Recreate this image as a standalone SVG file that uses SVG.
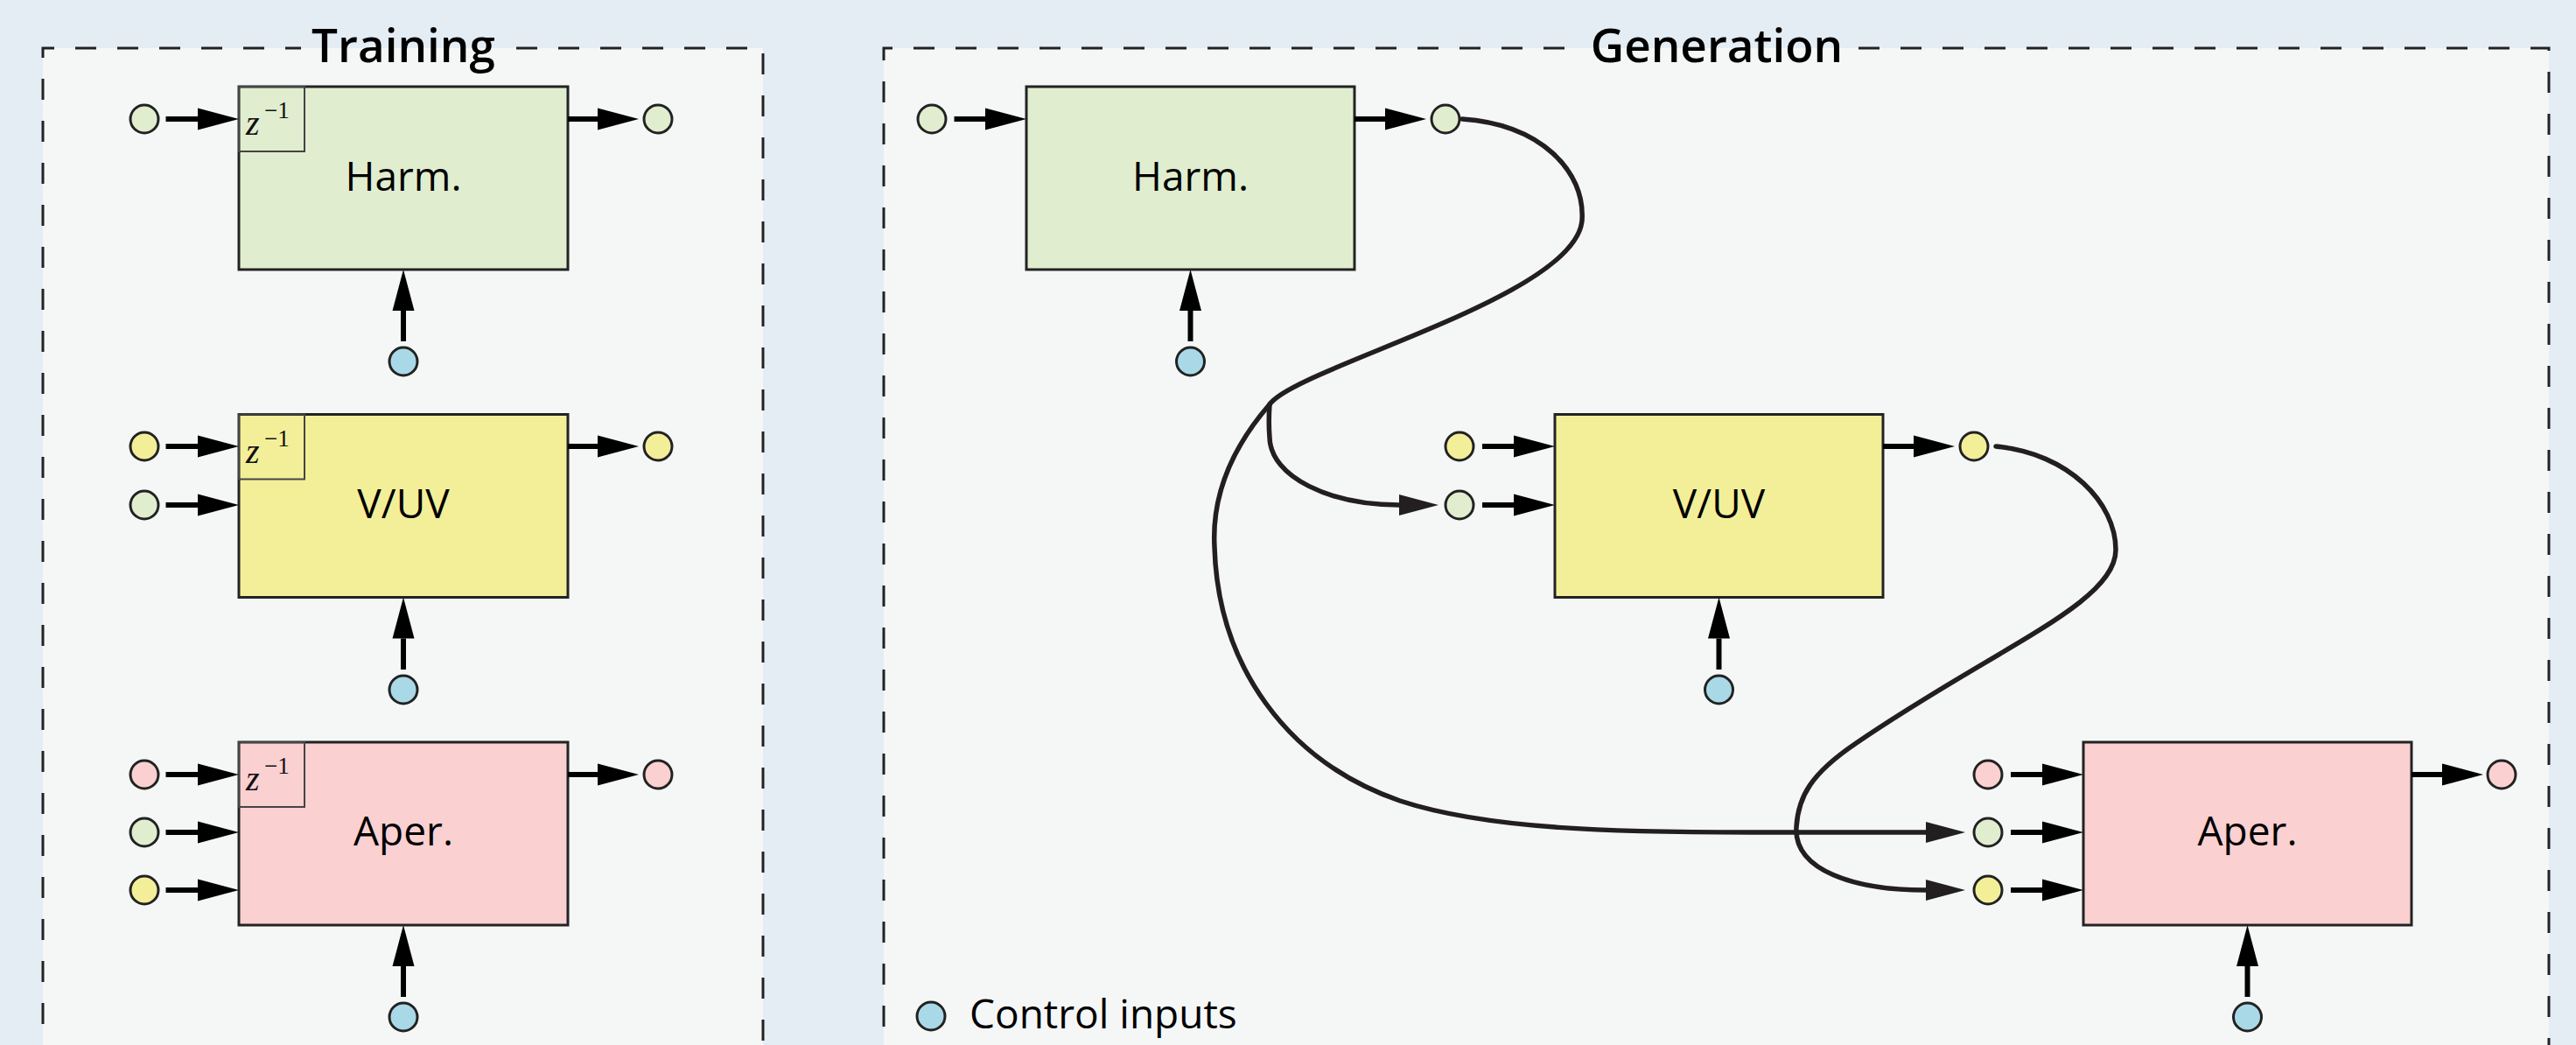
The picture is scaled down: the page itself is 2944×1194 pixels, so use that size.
<svg xmlns="http://www.w3.org/2000/svg" width="2944" height="1194" viewBox="0 0 2944 1194">
<defs>
<style>
.frame{fill:#f5f7f7;stroke:none}
.dash{fill:none;stroke:#222;stroke-width:3;stroke-dasharray:24 24}
.title{font-family:"Open Sans","Noto Sans",sans-serif;font-weight:600;font-size:53px;fill:#000;text-anchor:middle}
.lbl{font-family:"Open Sans","Noto Sans",sans-serif;font-size:46px;fill:#000;text-anchor:middle}
.legend{font-family:"Open Sans","Noto Sans",sans-serif;font-size:46px;fill:#000}
.box{stroke:#232323;stroke-width:3}
.zb{fill:none;stroke:#444;stroke-width:2}
.zt{font-family:"Liberation Serif","DejaVu Serif",serif;fill:#111}
.g{fill:#e1edcf}
.y{fill:#f3ef99}
.p{fill:#fad0d1}
.c{stroke:#222;stroke-width:3}
.cb{fill:#a9d9e6}
.arr{stroke:#000;stroke-width:6;fill:none;marker-end:url(#ah)}
.cur{stroke:#231f20;stroke-width:5.5;fill:none;stroke-linecap:round}
.cura{marker-end:url(#ahc)}
</style>
<marker id="ah" markerUnits="userSpaceOnUse" markerWidth="48" markerHeight="26" refX="0" refY="12.5" orient="auto" overflow="visible"><path d="M0,0 L47,12.5 L0,25 Z" fill="#000"/></marker>
<marker id="ahc" markerUnits="userSpaceOnUse" markerWidth="46" markerHeight="25" refX="0" refY="12" orient="auto" overflow="visible"><path d="M0,0 L45,12 L0,24 Z" fill="#231f20"/></marker>
</defs>
<rect x="0" y="0" width="2944" height="1194" fill="#e4ecf4"/>

<g id="training-frame">
<rect class="frame" x="49" y="55" width="823" height="1200"/>
<path class="dash" d="M590,55 H872 V1260 H49 V55 H344"/>
<text class="title" x="461" y="71">Training</text>
</g>
<g id="generation-frame">
<rect class="frame" x="1010" y="55" width="1903" height="1200"/>
<path class="dash" d="M2124,55 H2913 V1260 H1010 V55 H1801"/>
<text class="title" x="1962" y="71">Generation</text>
</g>

<!-- Training nodes -->
<g id="t-harm">
<rect class="box g" x="273" y="99" width="376" height="209"/>
<rect class="zb" x="273" y="99" width="75" height="74"/>
<text class="zt" x="281" y="154" font-size="40" font-style="italic">z</text>
<text class="zt" x="302" y="135" font-size="27">−1</text>
<text class="lbl" x="461" y="218">Harm.</text>
</g>
<g id="t-vuv">
<rect class="box y" x="273" y="473.5" width="376" height="209"/>
<rect class="zb" x="273" y="473.5" width="75" height="74"/>
<text class="zt" x="281" y="528.5" font-size="40" font-style="italic">z</text>
<text class="zt" x="302" y="509.5" font-size="27">−1</text>
<text class="lbl" x="461" y="592">V/UV</text>
</g>
<g id="t-aper">
<rect class="box p" x="273" y="848" width="376" height="209"/>
<rect class="zb" x="273" y="848" width="75" height="74"/>
<text class="zt" x="281" y="903" font-size="40" font-style="italic">z</text>
<text class="zt" x="302" y="884" font-size="27">−1</text>
<text class="lbl" x="461" y="966">Aper.</text>
</g>
<g id="t-ports">
<circle class="c g" cx="165" cy="136" r="16"/>
<circle class="c g" cx="752" cy="136" r="16"/>
<circle class="c cb" cx="461" cy="413" r="16"/>
<circle class="c y" cx="165" cy="510" r="16"/>
<circle class="c g" cx="165" cy="577" r="16"/>
<circle class="c y" cx="752" cy="510" r="16"/>
<circle class="c cb" cx="461" cy="788" r="16"/>
<circle class="c p" cx="165" cy="885" r="16"/>
<circle class="c g" cx="165" cy="951" r="16"/>
<circle class="c y" cx="165" cy="1017" r="16"/>
<circle class="c p" cx="752" cy="885" r="16"/>
<circle class="c cb" cx="461" cy="1162" r="16"/>
</g>

<!-- Generation nodes -->
<g id="g-harm">
<rect class="box g" x="1173" y="99" width="375" height="209"/>
<text class="lbl" x="1360.5" y="218">Harm.</text>
</g>
<g id="g-vuv">
<rect class="box y" x="1777" y="473.5" width="375" height="209"/>
<text class="lbl" x="1964.5" y="592">V/UV</text>
</g>
<g id="g-aper">
<rect class="box p" x="2381" y="848" width="375" height="209"/>
<text class="lbl" x="2568.5" y="966">Aper.</text>
</g>
<g id="g-ports">
<circle class="c g" cx="1065" cy="136" r="16"/>
<circle class="c g" cx="1652" cy="136" r="16"/>
<circle class="c cb" cx="1360.5" cy="413" r="16"/>
<circle class="c y" cx="1668" cy="510" r="16"/>
<circle class="c g" cx="1668" cy="577" r="16"/>
<circle class="c y" cx="2256" cy="510" r="16"/>
<circle class="c cb" cx="1964.5" cy="788" r="16"/>
<circle class="c p" cx="2272" cy="885" r="16"/>
<circle class="c g" cx="2272" cy="951" r="16"/>
<circle class="c y" cx="2272" cy="1017" r="16"/>
<circle class="c p" cx="2859" cy="885" r="16"/>
<circle class="c cb" cx="2568.5" cy="1162" r="16"/>
</g>

<g id="legend">
<circle class="c cb" cx="1064" cy="1161" r="16"/>
<text class="legend" x="1108" y="1175">Control inputs</text>
</g>

<g id="connectors">
<!-- training -->
<path class="arr" d="M189.5,136 H226"/>
<path class="arr" d="M649,136 H683"/>
<path class="arr" d="M461,390 V355"/>
<path class="arr" d="M189.5,510 H226"/>
<path class="arr" d="M189.5,577 H226"/>
<path class="arr" d="M649,510 H683"/>
<path class="arr" d="M461,765 V729.5"/>
<path class="arr" d="M189.5,885 H226"/>
<path class="arr" d="M189.5,951 H226"/>
<path class="arr" d="M189.5,1017 H226"/>
<path class="arr" d="M649,885 H683"/>
<path class="arr" d="M461,1139 V1104"/>
<!-- generation -->
<path class="arr" d="M1090.5,136 H1126"/>
<path class="arr" d="M1548,136 H1583"/>
<path class="arr" d="M1360.5,390 V355"/>
<path class="arr" d="M1694,510 H1730"/>
<path class="arr" d="M1694,577 H1730"/>
<path class="arr" d="M2152,510 H2187"/>
<path class="arr" d="M1964.5,765 V729.5"/>
<path class="arr" d="M2298,885 H2334"/>
<path class="arr" d="M2298,951 H2334"/>
<path class="arr" d="M2298,1017 H2334"/>
<path class="arr" d="M2756,885 H2791"/>
<path class="arr" d="M2568.5,1139 V1104"/>
<!-- curves -->
<path class="cur" d="M1671,136 C1760,142 1812,195 1808,252 C1800,340 1480,420 1451,462"/>
<path class="cur cura" d="M1451,462 C1450,475 1450,488 1451,500 C1452,545 1520,577 1599,577"/>
<path class="cur cura" d="M1451,462 C1405,515 1385,570 1388,625 C1392,760 1470,870 1600,915 C1700,948 1850,951 2000,951 L2201,951"/>
<path class="cur cura" d="M2281,510 C2365,518 2418,575 2418,628 C2418,690 2280,740 2120,850 C2070,884 2055,910 2053,945 C2050,995 2120,1017 2201,1017"/>
</g>
</svg>
